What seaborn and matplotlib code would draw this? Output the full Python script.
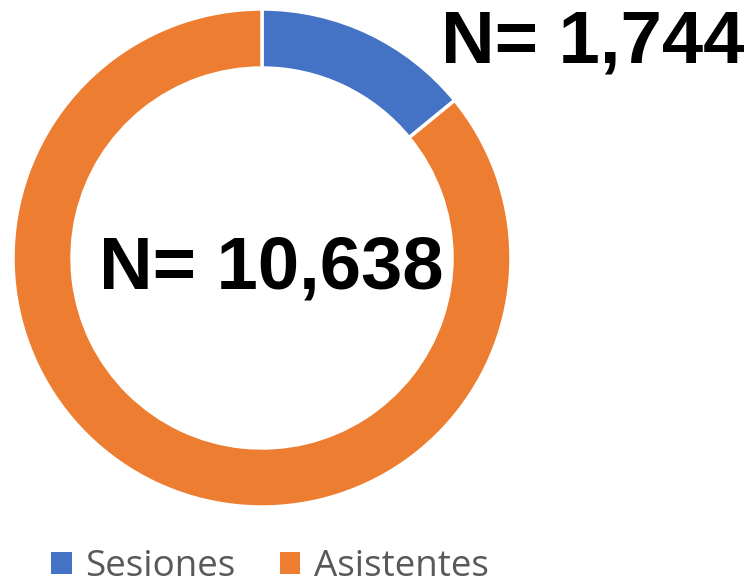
import matplotlib
matplotlib.use("Agg")
import matplotlib.pyplot as plt
from matplotlib.patches import Patch
import seaborn as sns

# Data
categories = ["Sesiones", "Asistentes"]
values = [1744, 10638]
colors = ["#4472C4", "#ED7D31"]

sns.set_theme(style="white")
plt.rcParams["font.family"] = ["Liberation Sans", "DejaVu Sans"]

W, H = 753, 587
fig = plt.figure(figsize=(W / 100, H / 100), dpi=100)
ax = fig.add_axes([0, 0, 1, 1])

cx, cy, r = 262, H - 258, 249
ax.pie(values, colors=colors, startangle=90, counterclock=False,
       center=(cx, cy), radius=r, frame=True,
       wedgeprops=dict(width=59, edgecolor="white", linewidth=2.5))
ax.set_xlim(0, W)
ax.set_ylim(0, H)
ax.set_aspect("equal")
ax.axis("off")

ax.text(271, H - 289, f"N= {values[1]:,}", ha="center", va="baseline",
        fontsize=53.5, fontweight="bold", color="black")
ax.text(593, H - 62, f"N= {values[0]:,}", ha="center", va="baseline",
        fontsize=53.5, fontweight="bold", color="black")

handles = [Patch(facecolor=c, edgecolor="none", label=l) for c, l in zip(colors, categories)]
leg = fig.legend(handles=handles, loc="center", bbox_to_anchor=(270 / W, 1 - 567 / H),
                 ncol=2, frameon=False, fontsize=26.5, handlelength=0.56, handleheight=0.56,
                 handletextpad=0.36, columnspacing=1.2)
for t in leg.get_texts():
    t.set_color("#595959")
    t.set_family(["Open Sans", "DejaVu Sans"])

fig.savefig("out.png", dpi=100, facecolor="white")
